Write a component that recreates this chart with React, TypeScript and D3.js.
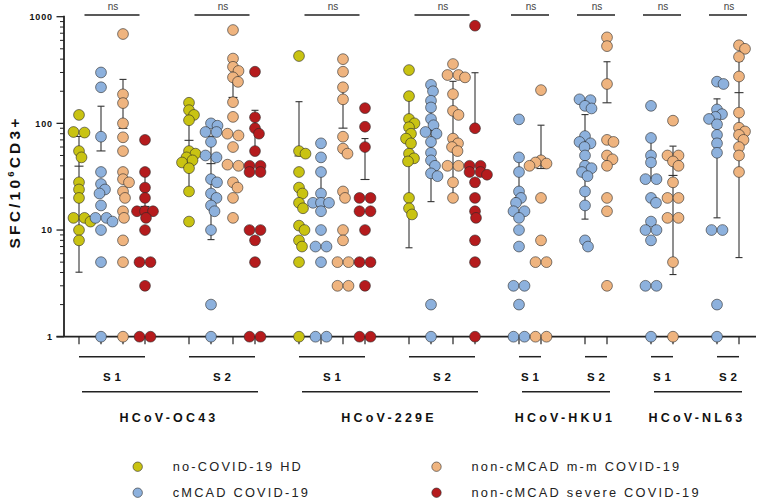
import React from "react";
import * as d3 from "d3";

// ---------- data ----------
const antigens = ["HCoV-OC43", "HCoV-229E", "HCoV-HKU1", "HCoV-NL63"];
const proteins = ["S1", "S2"];
const cohorts = [
  "no-COVID-19 HD",
  "cMCAD COVID-19",
  "non-cMCAD m-m COVID-19",
  "non-cMCAD severe COVID-19",
];
const cohortColors = ["#C9C312", "#8DB1DD", "#EFB47F", "#B51B1D"];
const yTickValues = [1, 10, 100, 1000];
const significance = ["ns", "ns", "ns", "ns", "ns", "ns", "ns", "ns"];

// SFC / 10^6 CD3+ per donor
const oc43S1HD = [120, 83, 82, 55, 48, 28, 24, 20, 13, 13, 12, 10, 8];
const oc43S1cMCAD = [300, 218, 75, 35, 27, 24, 22, 17, 13, 13, 12, 10, 5, 1];
const oc43S1MM = [688, 187, 155, 100, 74, 55, 35, 30, 28, 23, 20, 15, 13, 8, 5, 1];
const oc43S1Severe = [70, 35, 25, 20, 15, 15, 15, 13, 10, 5, 5, 3, 1, 1];

const oc43S2HD = [156, 133, 120, 107, 55, 52, 48, 45, 43, 38, 23, 12];
const oc43S2cMCAD = [100, 95, 83, 83, 67, 50, 48, 30, 28, 22, 20, 17, 15, 10, 2, 1];
const oc43S2MM = [750, 405, 339, 310, 270, 245, 158, 115, 80, 77, 60, 41, 40, 28, 25, 20, 13];
const oc43S2Severe = [305, 114, 90, 80, 55, 40, 40, 35, 35, 10, 10, 8, 5, 1, 1];

const e229S1HD = [428, 55, 52, 35, 25, 22, 18, 16, 11, 10, 8, 7, 5, 1];
const e229S1cMCAD = [65, 48, 35, 22, 18, 18, 18, 15, 10, 7, 7, 5, 1, 1];
const e229S1MM = [400, 305, 218, 168, 75, 58, 52, 23, 20, 10, 8, 5, 5, 3, 3];
const e229S1Severe = [139, 93, 60, 20, 20, 15, 15, 10, 5, 5, 3, 1, 1];

const e229S2HD = [316, 180, 110, 100, 92, 80, 72, 65, 52, 47, 44, 20, 16, 14];
const e229S2cMCAD = [230, 200, 163, 141, 110, 96, 83, 80, 67, 53, 45, 40, 34, 32, 2, 1];
const e229S2MM = [360, 284, 284, 270, 188, 131, 120, 72, 65, 60, 55, 40, 40, 28, 20];
const e229S2Severe = [823, 90, 40, 40, 35, 35, 33, 28, 20, 15, 13, 8, 5, 1];

const hku1S1cMCAD = [109, 48, 35, 23, 20, 18, 15, 15, 13, 10, 7, 3, 3, 2, 1, 1];
const hku1S1MM = [205, 45, 43, 42, 40, 20, 8, 5, 5, 1, 1];
const hku1S2cMCAD = [168, 165, 146, 138, 76, 67, 65, 60, 50, 40, 38, 35, 32, 23, 17, 8, 7];
const hku1S2MM = [640, 530, 234, 70, 67, 50, 46, 40, 20, 15, 3];

const nl63S1cMCAD = [146, 73, 50, 43, 30, 30, 20, 18, 12, 10, 10, 8, 3, 3, 1];
const nl63S1MM = [106, 50, 50, 44, 40, 28, 20, 20, 13, 13, 5, 1];
const nl63S2cMCAD = [246, 234, 135, 122, 115, 110, 98, 78, 65, 53, 10, 10, 2, 1];
const nl63S2MM = [540, 500, 420, 275, 126, 91, 84, 78, 70, 60, 50, 35];

// antigen / protein blocks, each with [cohort index, values] columns
const blocks: { antigen: number; protein: number; cols: [number, number[]][] }[] = [
  { antigen: 0, protein: 0, cols: [[0, oc43S1HD], [1, oc43S1cMCAD], [2, oc43S1MM], [3, oc43S1Severe]] },
  { antigen: 0, protein: 1, cols: [[0, oc43S2HD], [1, oc43S2cMCAD], [2, oc43S2MM], [3, oc43S2Severe]] },
  { antigen: 1, protein: 0, cols: [[0, e229S1HD], [1, e229S1cMCAD], [2, e229S1MM], [3, e229S1Severe]] },
  { antigen: 1, protein: 1, cols: [[0, e229S2HD], [1, e229S2cMCAD], [2, e229S2MM], [3, e229S2Severe]] },
  { antigen: 2, protein: 0, cols: [[1, hku1S1cMCAD], [2, hku1S1MM]] },
  { antigen: 2, protein: 1, cols: [[1, hku1S2cMCAD], [2, hku1S2MM]] },
  { antigen: 3, protein: 0, cols: [[1, nl63S1cMCAD], [2, nl63S1MM]] },
  { antigen: 3, protein: 1, cols: [[1, nl63S2cMCAD], [2, nl63S2MM]] },
];

// ---------- layout ----------
const W = 762;
const H = 504;
const AXIS_X = 64;
const AXIS_RIGHT = 756;
const R = 5.4;
const FONT = "'Liberation Sans', Arial, Helvetica, sans-serif";

type Col = { slot: number; cohort: number; values: number[]; block: number };
const cols: Col[] = [];
const blockSlots: { first: number; last: number }[] = [];
{
  let slot = 0;
  blocks.forEach((b, bi) => {
    const first = slot;
    b.cols.forEach(([c, v]) => {
      cols.push({ slot, cohort: c, values: v, block: bi });
      slot += 1;
    });
    blockSlots.push({ first, last: slot - 1 });
    slot += 1;
  });
}
const maxSlot = d3.max(cols, (c) => c.slot) as number;

const x = d3.scaleLinear().domain([0, maxSlot]).range([79, 739]);
const y = d3.scaleLog().domain([1, 1000]).range([336.7, 16.7]);

// scatter-dot layout: near-identical values spread symmetrically in a row,
// other points nudged sideways only when they overlap too much
function swarm(values: number[], cx: number, minDist: number) {
  const sorted = [...values].sort((a, b) => b - a);
  const rows: number[][] = [];
  for (const v of sorted) {
    const last = rows[rows.length - 1];
    if (last && Math.abs(y(last[0]) - y(v)) < 2) last.push(v);
    else rows.push([v]);
  }
  const placed: { x: number; y: number; v: number }[] = [];
  for (const row of rows) {
    if (row.length > 1) {
      const gap = row.length === 2 ? 11 : 8;
      row.forEach((v, i) => {
        placed.push({ x: cx + (i - (row.length - 1) / 2) * gap, y: y(v), v });
      });
    } else {
      const v = row[0];
      const py = y(v);
      let chosen = 0;
      for (let k = 0; k < 400; k++) {
        const step = Math.ceil(k / 2) * 0.5;
        const off = k === 0 ? 0 : k % 2 === 1 ? step : -step;
        if (placed.every((p) => Math.hypot(p.x - (cx + off), p.y - py) >= minDist)) {
          chosen = off;
          break;
        }
      }
      placed.push({ x: cx + chosen, y: py, v });
    }
  }
  return placed;
}

export default function App() {
  const minorTicks: number[] = [];
  for (let e = 0; e < 3; e++) for (let m = 2; m <= 9; m++) minorTicks.push(m * Math.pow(10, e));

  const antigenSpans = antigens.map((_, ai) => {
    const bs = blocks.map((b, bi) => ({ b, bi })).filter((o) => o.b.antigen === ai);
    return {
      first: blockSlots[bs[0].bi].first,
      last: blockSlots[bs[bs.length - 1].bi].last,
    };
  });

  return (
    <svg
      width={W}
      height={H}
      style={{ position: "absolute", left: 0, top: 0, background: "#fff" }}
      fontFamily={FONT}
    >
      <rect width={W} height={H} fill="#fff" />

      {/* Y axis */}
      <line x1={AXIS_X} x2={AXIS_X} y1={y(1000) - 1} y2={y(1)} stroke="#222" strokeWidth={1.8} />
      {yTickValues.map((t) => (
        <g key={"yt" + t}>
          <line x1={AXIS_X - 7.5} x2={AXIS_X} y1={y(t)} y2={y(t)} stroke="#222" strokeWidth={1.3} />
          <text
            x={53}
            y={y(t)}
            dy="0.35em"
            textAnchor="end"
            fontSize={9}
            fontWeight="bold"
            letterSpacing={0.9}
            fill="#111"
          >
            {t}
          </text>
        </g>
      ))}
      {minorTicks.map((t) => (
        <line key={"mt" + t} x1={AXIS_X - 4} x2={AXIS_X} y1={y(t)} y2={y(t)} stroke="#222" strokeWidth={1} />
      ))}
      <text
        transform={`translate(20,${182}) rotate(-90)`}
        textAnchor="middle"
        fontSize={15.5}
        fontWeight="bold"
        letterSpacing={3.2}
        fill="#111"
      >
        SFC/10
        <tspan dy={-6} fontSize={9.5}>
          6
        </tspan>
        <tspan dy={6}>CD3+</tspan>
      </text>

      {/* X axis */}
      <line x1={AXIS_X - 7.5} x2={AXIS_RIGHT} y1={y(1)} y2={y(1)} stroke="#222" strokeWidth={1.8} />
      {cols.map((c, i) => (
        <line key={"xt" + i} x1={x(c.slot)} x2={x(c.slot)} y1={y(1)} y2={y(1) + 7.5} stroke="#222" strokeWidth={1.2} />
      ))}

      {/* protein group lines + labels */}
      {blocks.map((b, bi) => {
        const s = blockSlots[bi];
        const cx = (x(s.first) + x(s.last)) / 2;
        return (
          <g key={"pb" + bi}>
            <line x1={x(s.first)} x2={x(s.last)} y1={356.7} y2={356.7} stroke="#222" strokeWidth={1.5} />
            <text x={cx + 2} y={381.3} textAnchor="middle" fontSize={11.5} fontWeight="bold" letterSpacing={4} fill="#111">
              {proteins[b.protein]}
            </text>
          </g>
        );
      })}
      {antigenSpans.map((s, ai) => {
        const cx = (x(s.first) + x(s.last)) / 2;
        return (
          <g key={"ag" + ai}>
            <line x1={x(s.first) + 3} x2={x(s.last) + 3} y1={391.7} y2={391.7} stroke="#222" strokeWidth={1.5} />
            <text x={cx + 2} y={421.7} textAnchor="middle" fontSize={12.5} fontWeight="bold" letterSpacing={3.2} fill="#111">
              {antigens[ai]}
            </text>
          </g>
        );
      })}

      {/* significance bars */}
      {blocks.map((b, bi) => {
        const s = blockSlots[bi];
        const cx = (x(s.first) + x(s.last)) / 2;
        const half = b.cols.length === 4 ? 27.5 : 19;
        return (
          <g key={"ns" + bi}>
            <line x1={cx - half} x2={cx + half} y1={15} y2={15} stroke="#222" strokeWidth={1.3} />
            <text x={cx + 1} y={9.5} textAnchor="middle" fontSize={10} fill="#444">
              {significance[bi]}
            </text>
          </g>
        );
      })}

      {/* error bars: mean ± SD */}
      {cols.map((c, i) => {
        const m = d3.mean(c.values) as number;
        const sd = d3.deviation(c.values) as number;
        const cx = x(c.slot);
        const hi = m + sd;
        const lo = m - sd;
        return (
          <g key={"eb" + i} stroke="#333" strokeWidth={1.1}>
            <line x1={cx} x2={cx} y1={y(Math.min(hi, 1000))} y2={lo >= 1 ? y(lo) : y(m)} />
            <line x1={cx - 4.5} x2={cx + 4.5} y1={y(m)} y2={y(m)} />
            <line x1={cx - 3.5} x2={cx + 3.5} y1={y(hi)} y2={y(hi)} />
            {lo >= 1 && <line x1={cx - 3.5} x2={cx + 3.5} y1={y(lo)} y2={y(lo)} />}
          </g>
        );
      })}

      {/* points */}
      {cols.map((c, i) => {
        const pts = swarm(c.values, x(c.slot), 2 * R * 0.62);
        return (
          <g key={"pt" + i}>
            {pts.map((p, j) => (
              <circle key={j} cx={p.x} cy={p.y} r={R} fill={cohortColors[c.cohort]} stroke="#2a2a2a" strokeWidth={0.6} />
            ))}
          </g>
        );
      })}

      {/* legend */}
      {cohorts.map((name, i) => {
        const lx = i < 2 ? 137.7 : 436.5;
        const ly = i % 2 === 0 ? 466.7 : 492.7;
        return (
          <g key={"lg" + i}>
            <circle cx={lx} cy={ly} r={4.7} fill={cohortColors[i]} stroke="#2a2a2a" strokeWidth={0.6} />
            <text x={lx + 35} y={ly + 4.5} fontSize={12.8} letterSpacing={2.2} fill="#222">
              {name}
            </text>
          </g>
        );
      })}
    </svg>
  );
}
